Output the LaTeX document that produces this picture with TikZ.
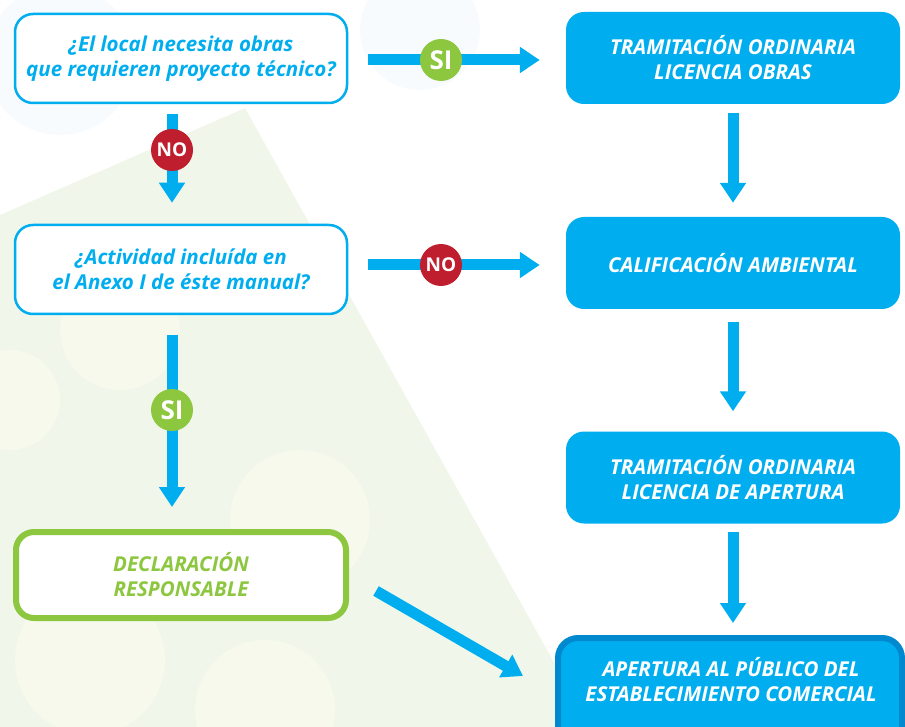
\documentclass[tikz,border=0pt]{standalone}
\usepackage{fontspec}
\setmainfont{Open Sans}
\usetikzlibrary{arrows.meta}
\definecolor{cblue}{HTML}{00AEEF}
\definecolor{cdblue}{HTML}{0089CF}
\definecolor{cgreen}{HTML}{8DC63F}
\definecolor{cred}{HTML}{BE1E2D}
\definecolor{bggreen}{HTML}{F0F7EA}
\definecolor{bgcirc}{HTML}{F6F9EC}
\definecolor{bgblue}{HTML}{F8FBFD}
\tikzset{
  txt/.style={font=\fontsize{20.5}{25}\selectfont\bfseries\itshape},
  qbox/.style={draw=cblue, line width=2.5pt, fill=white, rounded corners=18pt,
    minimum width=332pt, minimum height=89pt, align=center, text=cblue, txt},
  bbox/.style={fill=cblue, rounded corners=18pt, minimum width=334pt, minimum height=92pt,
    align=center, text=white, txt},
  gbox/.style={draw=cgreen, line width=6pt, fill=white, rounded corners=18pt,
    minimum width=330pt, minimum height=86pt, align=center, text=cgreen, txt},
  abox/.style={draw=cdblue, line width=6pt, fill=cblue, rounded corners=20pt,
    minimum width=344pt, minimum height=110pt, align=center, text=white, txt},
  flow/.style={draw=cblue, line width=11pt, -{Triangle[width=25pt,length=20pt]}},
  sibadge/.style={circle, fill=cgreen, minimum size=42pt, inner sep=0pt, text=white,
    font=\fontsize{26}{26}\selectfont\bfseries},
  nobadge/.style={circle, fill=cred, minimum size=42pt, inner sep=0pt, text=white,
    font=\fontsize{19}{19}\selectfont\bfseries},
}
\begin{document}
\begin{tikzpicture}[x=1pt,y=-1pt]
\useasboundingbox (0,0) rectangle (905,727);
\clip (0,0) rectangle (905,727);
% background decoration
\fill[bgblue] (60,60) circle (75);
\fill[bgblue] (420,30) circle (60);
\fill[bggreen] (245,108) -- (0,215) -- (0,727) -- (590,727) -- cycle;
\fill[bgcirc] (90,660) circle (75);
\fill[bgcirc] (265,710) circle (70);
\fill[bgcirc] (300,520) circle (70);
\fill[bgcirc] (120,330) circle (60);
\fill[bgcirc] (10,400) circle (50);
% nodes
\node[qbox] (q1) at (181,58.5) {¿El local necesita obras\\que requieren proyecto técnico?};
\node[bbox] (t1) at (733,58) {TRAMITACIÓN ORDINARIA\\LICENCIA OBRAS};
\node[qbox] (q2) at (181,269.5) {¿Actividad incluída en\\el Anexo I de éste manual?};
\node[bbox] (ca) at (733,263) {CALIFICACIÓN AMBIENTAL};
\node[bbox] (t2) at (733,477.5) {TRAMITACIÓN ORDINARIA\\LICENCIA DE APERTURA};
\node[gbox] (dr) at (181,575) {DECLARACIÓN\\RESPONSABLE};
\node[abox, anchor=north] (ap) at (730,635) {};
\node[text=white, align=center, txt] (aptext) at (731,680) {APERTURA AL PÚBLICO DEL\\ESTABLECIMIENTO COMERCIAL};
% connectors
\draw[flow, shorten <=20pt, shorten >=26pt] (q1.east |- 0,60) coordinate (s1) -- (t1.west |- s1);
\draw[flow, shorten <=20pt, shorten >=26pt] (q2.east |- 0,265) coordinate (s2) -- (ca.west |- s2);
\draw[flow, shorten <=10pt, shorten >=21pt] ([xshift=-9pt]q1.south) -- ([xshift=-9pt]q2.north);
\draw[flow, shorten <=20pt, shorten >=22pt] ([xshift=-9pt]q2.south) -- ([xshift=-9pt]dr.north);
\draw[flow, shorten <=9pt, shorten >=14pt] (t1.south) -- (ca.north);
\draw[flow, shorten <=13pt, shorten >=20pt] (ca.south) -- (t2.north);
\draw[flow, shorten <=8pt, shorten >=12pt] (t2.south) -- (t2.south |- ap.north);
\coordinate (dstart) at (376,591);
\coordinate (dend) at (523,676);
\draw[flow] (dstart) -- (dend);
% badges
\node[sibadge] (si1) at (441,60) {SI};
\node[nobadge] (no1) at (441,265) {NO};
\node[nobadge] (no2) at (172,150) {NO};
\node[sibadge] (si2) at (172,410) {SI};
\end{tikzpicture}
\end{document}
